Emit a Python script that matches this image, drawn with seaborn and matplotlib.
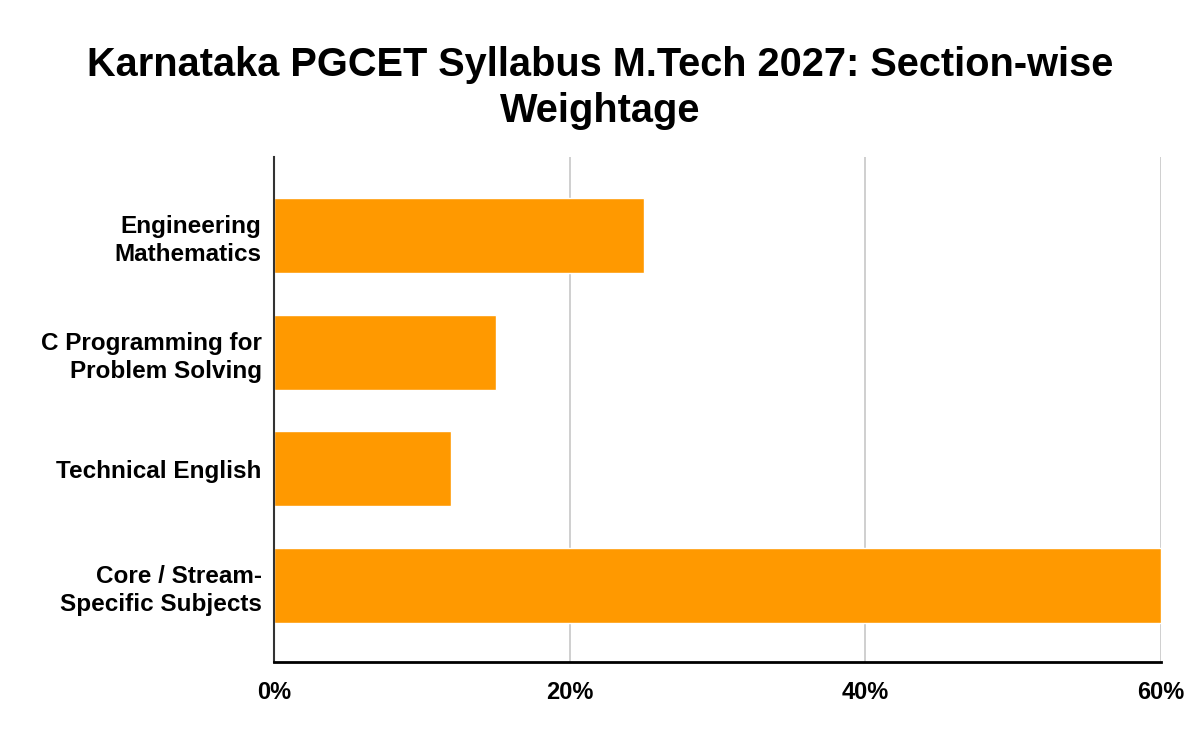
import pandas as pd
import numpy as np
import matplotlib
matplotlib.use('Agg')
import matplotlib.pyplot as plt
import seaborn as sns
from matplotlib.ticker import FuncFormatter

# chart data
sections = ['Engineering\nMathematics', 'C Programming for\nProblem Solving',
            'Technical English', 'Core / Stream-\nSpecific Subjects']
weightage = [25, 15, 12, 60]
x_ticks = [0, 20, 40, 60]

df = pd.DataFrame({'section': sections, 'weightage': weightage})

sns.set_style('white')
plt.rcParams['font.family'] = ['Liberation Sans', 'DejaVu Sans']

fig = plt.figure(figsize=(12, 7.42), dpi=100)
ax = fig.add_axes([274/1200, 1 - 662/742, (1161-274)/1200, (662-157)/742])

sns.barplot(data=df, x='weightage', y='section', color='#ff9900', saturation=1,
            width=0.643, ax=ax, zorder=3)

ax.set_xlim(0, 60)
ax.set_ylim(3.656, -0.673)
ax.set_xticks(x_ticks)
ax.xaxis.set_major_formatter(FuncFormatter(lambda v, p: f'{int(v)}%'))
ax.grid(axis='x', color='#cccccc', linewidth=1.3, zorder=0)
ax.set_xlabel('')
ax.set_ylabel('')

for s in ['top', 'right']:
    ax.spines[s].set_visible(False)
ax.spines['left'].set_color('#333333')
ax.spines['left'].set_linewidth(1.5)
ax.spines['bottom'].set_color('black')
ax.spines['bottom'].set_linewidth(2)
ax.spines['left'].set_zorder(4)
ax.spines['bottom'].set_zorder(4)

ax.tick_params(axis='y', length=0, pad=9, labelsize=17.5)
ax.tick_params(axis='x', length=0, pad=14, labelsize=17)
for lbl in ax.get_yticklabels() + ax.get_xticklabels():
    lbl.set_fontweight('bold')
    lbl.set_color('black')
for lbl in ax.get_yticklabels():
    lbl.set_linespacing(1.28)

fig.text(0.5, 1 - 88/742, 'Karnataka PGCET Syllabus M.Tech 2027: Section-wise\nWeightage',
         ha='center', va='center', fontsize=28.6, fontweight='bold', linespacing=1.28,
         color='black')

fig.savefig('out.png', dpi=100)
